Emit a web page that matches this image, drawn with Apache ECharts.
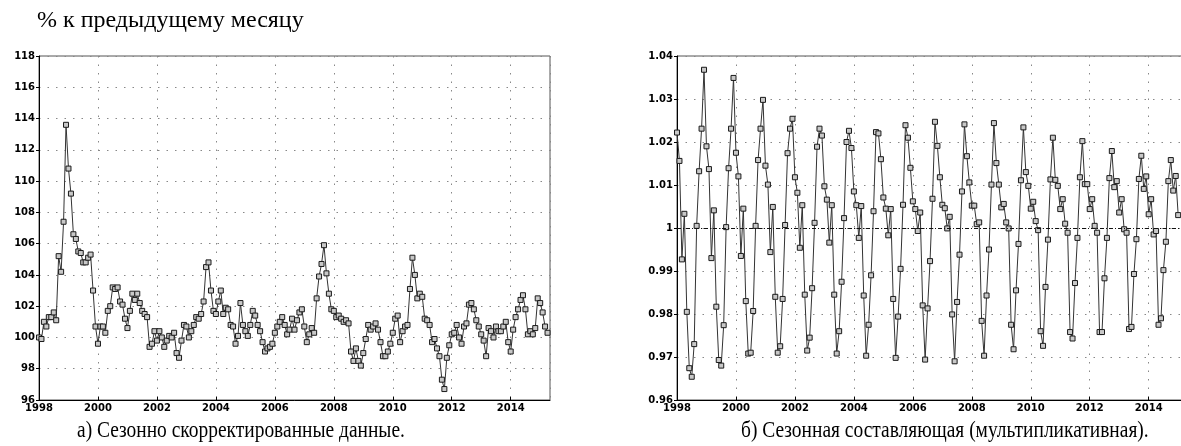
<!DOCTYPE html>
<html>
<head>
<meta charset="utf-8">
<script src="https://cdn.jsdelivr.net/npm/echarts@6/dist/echarts.min.js"></script>
<style>
  html, body { margin: 0; background: #fff; }
  #chart { width: 1181px; height: 446px; }
</style>
</head>
<body>
<div id="chart"></div>
<script>
// месячные данные, январь 1998 — апрель 2015
const startYear = 1998
const endYear = 2015 + 4 / 12

// % к предыдущему месяцу, сезонно скорректированные
const adjusted = [
  100.0, 99.9, 101.0, 100.7, 101.3, 101.3, 101.6, 101.1, 105.2, 104.2, 107.4, 113.6,
  110.8, 109.2, 106.6, 106.3, 105.5, 105.4, 104.8, 104.8, 105.1, 105.3, 103.0, 100.7,
  99.6, 100.7, 100.7, 100.3, 101.7, 102.0, 103.2, 103.1, 103.2, 102.3, 102.1, 101.2,
  100.6, 101.7, 102.8, 102.4, 102.8, 102.2, 101.7, 101.5, 101.3, 99.4, 99.6, 100.4,
  99.8, 100.4, 100.0, 99.4, 99.8, 100.1, 100.0, 100.3, 99.0, 98.7, 99.8, 100.8,
  100.7, 100.0, 100.4, 100.8, 101.3, 101.2, 101.5, 102.3, 104.5, 104.8, 103.0, 101.7,
  101.5, 102.3, 103.0, 101.5, 101.9, 101.8, 100.8, 100.7, 99.6, 100.1, 102.2, 100.8,
  100.4, 100.1, 100.8, 101.7, 101.4, 100.8, 100.4, 99.7, 99.1, 99.3, 99.4, 99.6,
  100.3, 100.7, 101.0, 101.3, 100.8, 100.2, 100.5, 101.2, 100.5, 101.1, 101.6, 101.8,
  100.7, 99.7, 100.2, 100.6, 100.3, 102.5, 103.9, 104.7, 105.9, 104.1, 102.8, 101.8,
  101.7, 101.3, 101.4, 101.2, 101.0, 101.1, 100.9, 99.1, 98.5, 99.3, 98.5, 98.2,
  99.0, 99.9, 100.8, 100.5, 100.7, 100.9, 100.5, 99.7, 98.8, 98.8, 99.1, 99.6,
  100.3, 101.2, 101.4, 99.7, 100.4, 100.7, 100.8, 103.1, 105.1, 104.0, 102.5, 102.8,
  102.6, 101.2, 101.1, 100.8, 99.7, 99.9, 99.3, 98.8, 97.3, 96.7, 98.7, 99.5,
  100.2, 100.3, 100.8, 100.0, 99.6, 100.7, 100.9, 102.1, 102.2, 101.8, 101.1, 100.7,
  100.2, 99.8, 98.8, 100.6, 100.4, 100.0, 100.7, 100.4, 100.4, 100.7, 101.0, 99.7,
  99.1, 100.5, 101.3, 101.8, 102.4, 102.7, 101.8, 100.2, 100.4, 100.2, 100.6, 102.5,
  102.2, 101.6, 100.7, 100.3
]

// сезонная составляющая (мультипликативная), по годам
const seasonal = [
  1.0222, 1.0156, 0.9927, 1.0033, 0.9805, 0.9674, 0.9654, 0.9730, 1.0005, 1.0132, 1.0231, 1.0368,
  1.0190, 1.0137, 0.9930, 1.0041, 0.9817, 0.9693, 0.9680, 0.9774, 1.0002, 1.0139, 1.0231, 1.0349,
  1.0175, 1.0120, 0.9935, 1.0045, 0.9830, 0.9708, 0.9710, 0.9807, 1.0005, 1.0158, 1.0231, 1.0298,
  1.0145, 1.0101, 0.9944, 1.0049, 0.9840, 0.9710, 0.9725, 0.9835, 1.0007, 1.0174, 1.0231, 1.0254,
  1.0118, 1.0082, 0.9954, 1.0053, 0.9845, 0.9715, 0.9745, 0.9860, 1.0012, 1.0189, 1.0231, 1.0215,
  1.0097, 1.0066, 0.9966, 1.0053, 0.9845, 0.9708, 0.9760, 0.9875, 1.0023, 1.0200, 1.0226, 1.0186,
  1.0085, 1.0053, 0.9977, 1.0051, 0.9843, 0.9703, 0.9775, 0.9890, 1.0039, 1.0223, 1.0220, 1.0160,
  1.0071, 1.0045, 0.9983, 1.0044, 0.9835, 0.9698, 0.9794, 0.9905, 1.0054, 1.0239, 1.0210, 1.0140,
  1.0062, 1.0044, 0.9993, 1.0036, 0.9820, 0.9694, 0.9813, 0.9923, 1.0068, 1.0247, 1.0191, 1.0118,
  1.0054, 1.0046, 0.9999, 1.0026, 0.9799, 0.9690, 0.9828, 0.9938, 1.0085, 1.0241, 1.0167, 1.0106,
  1.0052, 1.0052, 1.0009, 1.0013, 0.9784, 0.9703, 0.9843, 0.9950, 1.0101, 1.0244, 1.0151, 1.0101,
  1.0048, 1.0056, 1.0013, 0.9999, 0.9775, 0.9718, 0.9855, 0.9963, 1.0111, 1.0234, 1.0130, 1.0098,
  1.0045, 1.0061, 1.0016, 0.9995, 0.9760, 0.9726, 0.9863, 0.9973, 1.0113, 1.0210, 1.0112, 1.0098,
  1.0044, 1.0067, 1.0010, 0.9989, 0.9758, 0.9743, 0.9872, 0.9977, 1.0118, 1.0202, 1.0102, 1.0102,
  1.0044, 1.0067, 1.0005, 0.9989, 0.9758, 0.9758, 0.9883, 0.9977, 1.0116, 1.0179, 1.0095, 1.0109,
  1.0036, 1.0067, 0.9997, 0.9989, 0.9765, 0.9770, 0.9893, 0.9974, 1.0114, 1.0168, 1.0091, 1.0120,
  1.0032, 1.0067, 0.9985, 0.9993, 0.9775, 0.9790, 0.9902, 0.9968, 1.0109, 1.0158, 1.0087, 1.0121,
  1.0030
]

// шкалы
const leftTicks = [96, 118, 2]
const rightTicks = [0.96, 1.04, 0.01]
const yearStep = 2

const titleText = '% к предыдущему месяцу'
const captionLeft = 'а) Сезонно скорректированные данные.'
const captionRight = 'б) Сезонная составляющая (мультипликативная).'

const chart = echarts.init(document.getElementById('chart'))

// значения -> точки [год, значение]
function toPoints(values) {
  return values.map((v, i) => [startYear + i / 12, v])
}

const labelFont = {
  fontFamily: 'DejaVu Sans',
  fontWeight: 'bold',
  fontSize: 10,
  color: '#000'
}

const dotted = { show: true, lineStyle: { type: [1.5, 7], color: '#888', width: 1 } }

function makeXAxis(idx) {
  return {
    type: 'value',
    gridIndex: idx,
    min: startYear,
    max: endYear,
    interval: yearStep,
    axisLine: { lineStyle: { color: '#000', width: 1 } },
    axisTick: { inside: true, length: 3, lineStyle: { color: '#000' } },
    axisLabel: Object.assign({}, labelFont, {
      margin: 3,
      showMaxLabel: false,
      formatter: v => Number.isInteger(v) ? String(v) : ''
    }),
    splitLine: dotted
  }
}

function makeYAxis(idx, ticks, fmt) {
  return {
    type: 'value',
    gridIndex: idx,
    min: ticks[0],
    max: ticks[1],
    interval: ticks[2],
    axisLine: { show: true, lineStyle: { color: '#000', width: 1 } },
    axisTick: { show: true, length: 3, lineStyle: { color: '#000' } },
    axisLabel: Object.assign({}, labelFont, { margin: 4, formatter: fmt }),
    splitLine: dotted
  }
}

const lineSeries = {
  type: 'line',
  symbol: 'rect',
  symbolSize: 5,
  showAllSymbol: true,
  lineStyle: { color: '#333', width: 1 },
  itemStyle: { color: '#c8c8c8', borderColor: '#1a1a1a', borderWidth: 1 },
  animation: false
}

const gridBase = { top: 56, width: 511, height: 344, show: true, borderColor: '#555', borderWidth: 1, outerBoundsMode: 'none', containLabel: false }

const option = {
  animation: false,
  grid: [
    Object.assign({ left: 39 }, gridBase),
    Object.assign({ left: 677 }, gridBase)
  ],
  xAxis: [makeXAxis(0), makeXAxis(1)],
  yAxis: [
    makeYAxis(0, leftTicks, v => String(v)),
    makeYAxis(1, rightTicks, v => String(+v.toFixed(2)))
  ],
  series: [
    Object.assign({}, lineSeries, {
      xAxisIndex: 0, yAxisIndex: 0,
      data: toPoints(adjusted)
    }),
    Object.assign({}, lineSeries, {
      xAxisIndex: 1, yAxisIndex: 1,
      data: toPoints(seasonal),
      markLine: {
        silent: true,
        symbol: 'none',
        label: { show: false },
        lineStyle: { type: [4, 2, 1, 2], color: '#111', width: 1 },
        data: [{ yAxis: 1 }]
      }
    })
  ],
  graphic: [
    {
      type: 'text', left: 37, top: 9,
      style: { text: titleText, font: '24px "Liberation Serif"', fill: '#000' }
    },
    {
      type: 'text', x: 77, y: 419, scaleX: 0.81,
      style: { text: captionLeft, font: '24px "Liberation Serif"', fill: '#000' }
    },
    {
      type: 'text', x: 741, y: 419, scaleX: 0.81,
      style: { text: captionRight, font: '24px "Liberation Serif"', fill: '#000' }
    }
  ]
}

chart.setOption(option)
</script>
</body>
</html>
